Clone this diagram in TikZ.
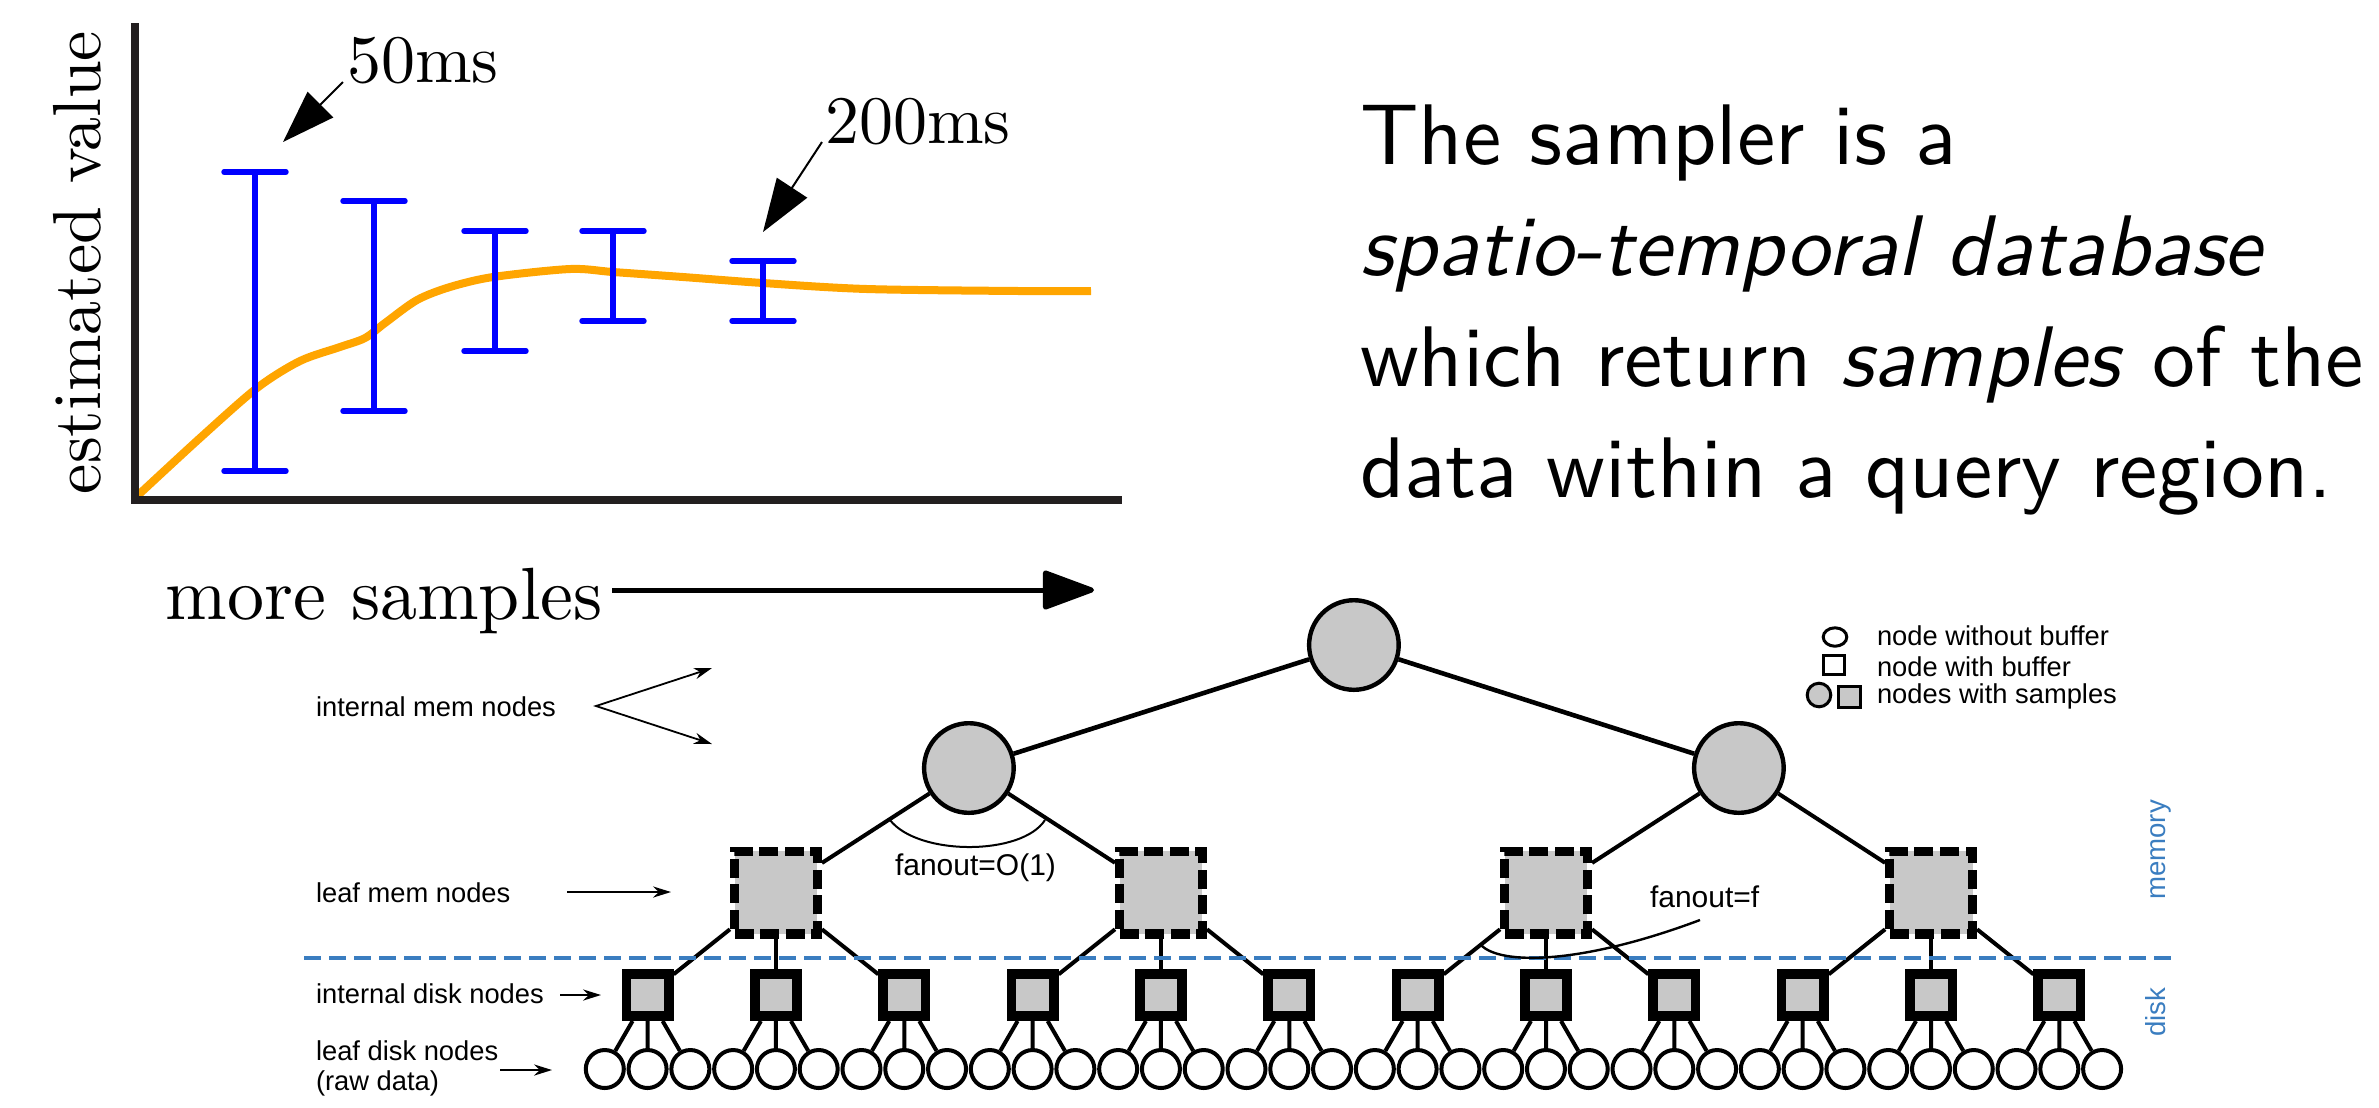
\documentclass[tikz,border=0pt]{standalone}
\usepackage{fontspec}
\newfontfamily\labelsf{Liberation Sans}
\newfontfamily\slidesf{lmsans10-regular.otf}[ItalicFont=lmsans10-oblique.otf]
\newfontfamily\plotrm{lmroman10-regular.otf}
\usetikzlibrary{arrows.meta,shapes.geometric}
\definecolor{axisgray}{RGB}{35,31,32}
\definecolor{nodegray}{RGB}{200,200,200}
\definecolor{memblue}{RGB}{58,125,192}
\definecolor{curveorange}{RGB}{255,165,0}
\definecolor{barblue}{RGB}{0,0,255}
\tikzset{
  txt/.style={inner sep=0pt, outer sep=0pt},
  plottxt/.style={txt, font=\plotrm\fontsize{17}{20}\selectfont},
  slidetxt/.style={txt, font=\slidesf\fontsize{21.5}{27.75}\selectfont},
  lab/.style={txt, font=\labelsf\fontsize{6.83}{8}\selectfont},
  fantxt/.style={txt, font=\labelsf\fontsize{7.5}{9}\selectfont},
  sidetxt/.style={txt, text=memblue, font=\labelsf\fontsize{6.9}{8}\selectfont},
  memnode/.style={circle, draw, line width=1.1pt, fill=nodegray, minimum size=22.4pt, inner sep=0pt},
  leafmem/.style={rectangle, draw, line width=2.3pt, fill=nodegray, minimum size=20.7pt, inner sep=0pt, dash pattern=on 4.75pt off 1.65pt},
  disknode/.style={rectangle, draw, line width=2.4pt, fill=nodegray, minimum size=10.6pt, inner sep=0pt},
  leafnode/.style={circle, draw, line width=1pt, fill=white, minimum size=9.5pt, inner sep=0pt},
  edge/.style={line width=1pt, black},
  topedge/.style={line width=1.15pt, black},
  bigarrow/.style={line width=0.5pt, -{Triangle[length=13.25pt,width=9pt]}},
  labarrow/.style={line width=0.45pt, -{Stealth[length=4.5pt,width=2.8pt]}},
  errbar/.style={barblue, line width=1.35pt, line cap=round},
}
\begin{document}
\begin{tikzpicture}[x=0.25pt,y=-0.25pt]
\useasboundingbox (0,0) rectangle (2379,1107);

% ---------------- plot ----------------
\draw[curveorange, line width=2pt] plot[smooth, tension=0.5] coordinates {(135,498) (200,438) (257,388) (300,361) (340,347) (365,338) (385,323) (417,300) (450,287) (493,277) (570,269) (613,272) (683,277) (763,283) (867,289) (1020,291) (1091,291)};
\draw[axisgray, line width=2pt] (135,23) -- (135,500) -- (1122,500);
\foreach \x/\t/\b in {255/172/471, 374/201/411, 495/231/351, 613/231/321, 763/261/321}{
  \draw[errbar] (\x-31,\t) -- (\x+31,\t) (\x,\t) -- (\x,\b) (\x-31,\b) -- (\x+31,\b);
}
\node[plottxt, rotate=90, anchor=base] (ylab) at (100,262.5) {estimated value};
\node[plottxt, anchor=base west] (t50) at (347,82) {50ms};
\node[plottxt, anchor=base west] (t200) at (825,143) {200ms};
\node[txt, font=\plotrm\fontsize{18.5}{22}\selectfont, anchor=base west] (xlab) at (166,619) {more samples};
\coordinate (a50s) at (343,82);
\coordinate (a50e) at (283,142);
\coordinate (a200s) at (822,142);
\coordinate (a200e) at (763,232);
\coordinate (axs) at (612,590);
\coordinate (axe) at (1094,590);
\draw[bigarrow] (a50s) -- (a50e);
\draw[bigarrow] (a200s) -- (a200e);
\draw[line width=1.25pt, -{Triangle[round,length=14pt,width=10pt]}] (axs) -- (axe);

% ---------------- slide text ----------------
\node[slidetxt, anchor=base west] (s1) at (1360,164) {The sampler is a};
\node[slidetxt, anchor=base west] (s2) at (1360,275) {\itshape spatio-temporal database};
\node[slidetxt, anchor=base west] (s3) at (1360,386) {which return \textit{samples} of the};
\node[slidetxt, anchor=base west] (s4) at (1360,497) {data within a query region.};

% ---------------- tree ----------------
\foreach \k in {0,...,35}{
  \node[leafnode] (l\k) at ({604.8+42.78*\k},1069) {};
}
\foreach \j in {0,...,11}{
  \node[disknode] (d\j) at ({647.6+128.35*\j},995) {};
}
\foreach \i/\j in {1/1,2/4,3/7,4/10}{
  \node[leafmem] (lm\i) at ({647.6+128.35*\j},892.6) {};
}
\node[memnode] (m1) at (968.9,768) {};
\node[memnode] (m2) at (1738.9,768) {};
\node[memnode] (root) at (1353.9,645) {};

\draw[topedge] (root) -- (m1);
\draw[topedge] (root) -- (m2);
\draw[edge] (m1) -- (lm1);
\draw[edge] (m1) -- (lm2);
\draw[edge] (m2) -- (lm3);
\draw[edge] (m2) -- (lm4);
\foreach \i/\a/\b/\c in {1/0/1/2, 2/3/4/5, 3/6/7/8, 4/9/10/11}{
  \draw[edge] (lm\i) -- (d\a);
  \draw[edge] (lm\i) -- (d\b);
  \draw[edge] (lm\i) -- (d\c);
}
\foreach \j in {0,...,11}{
  \pgfmathtruncatemacro{\p}{3*\j}
  \pgfmathtruncatemacro{\q}{3*\j+1}
  \pgfmathtruncatemacro{\r}{3*\j+2}
  \draw[edge] (d\j) -- (l\p);
  \draw[edge] (d\j) -- (l\q);
  \draw[edge] (d\j) -- (l\r);
}

% memory / disk separator
\coordinate (bl) at (304,958);
\coordinate (br) at (2177,958);
\draw[memblue, line width=1.1pt, dash pattern=on 4.25pt off 2pt] (bl) -- (br);
\node[sidetxt, rotate=90, anchor=base] (memlab) at (2165,850) {memory};
\node[sidetxt, rotate=90, anchor=base] (disklab) at (2165,1012) {disk};

% fanout annotations
\draw[line width=0.5pt] (890,820) .. controls (918,856) and (1022,856) .. (1045,820);
\node[fantxt, anchor=base west] (fan1) at (895,875) {fanout=O(1)};
\draw[line width=0.6pt] (1481,945) .. controls (1500,965) and (1580,965) .. (1700,920);
\node[fantxt, anchor=base west] (fan2) at (1650,907) {fanout=f};

% left labels
\node[lab, anchor=base west] (lb1) at (316,716) {internal mem nodes};
\node[lab, anchor=base west] (lb2) at (316,902) {leaf mem nodes};
\node[lab, anchor=base west] (lb3) at (316,1003) {internal disk nodes};
\node[lab, anchor=base west] (lb4) at (316,1060) {leaf disk nodes};
\node[lab, anchor=base west] (lb5) at (316,1090) {(raw data)};
\coordinate (v1) at (596,706);
\coordinate (v1a) at (712,668);
\coordinate (v1b) at (712,744);
\draw[line width=0.45pt, {Stealth[length=4.5pt,width=2.8pt]}-{Stealth[length=4.5pt,width=2.8pt]}] (v1a) -- (v1) -- (v1b);
\coordinate (a2s) at (567,892);
\coordinate (a2e) at (671,892);
\draw[labarrow] (a2s) -- (a2e);
\coordinate (a3s) at (560,995);
\coordinate (a3e) at (601,995);
\draw[labarrow] (a3s) -- (a3e);
\coordinate (a4s) at (500,1070);
\coordinate (a4e) at (552,1070);
\draw[labarrow] (a4s) -- (a4e);

% legend
\node[ellipse, draw, line width=0.75pt, fill=white, minimum width=5.9pt, minimum height=4.6pt, inner sep=0pt] (lgc) at (1835,637) {};
\node[rectangle, draw, line width=0.75pt, fill=white, minimum width=5.3pt, minimum height=4.8pt, inner sep=0pt] (lgs) at (1834,665) {};
\node[circle, draw, line width=0.75pt, fill=nodegray, minimum size=5.9pt, inner sep=0pt] (lggc) at (1819,695) {};
\node[rectangle, draw, line width=0.75pt, fill=nodegray, minimum width=5.35pt, minimum height=5.1pt, inner sep=0pt] (lggs) at (1849.5,697) {};
\node[lab, anchor=base west] (lg1) at (1877,645) {node without buffer};
\node[lab, anchor=base west] (lg2) at (1877,676) {node with buffer};
\node[lab, anchor=base west] (lg3) at (1877,703) {nodes with samples};
\end{tikzpicture}
\end{document}
